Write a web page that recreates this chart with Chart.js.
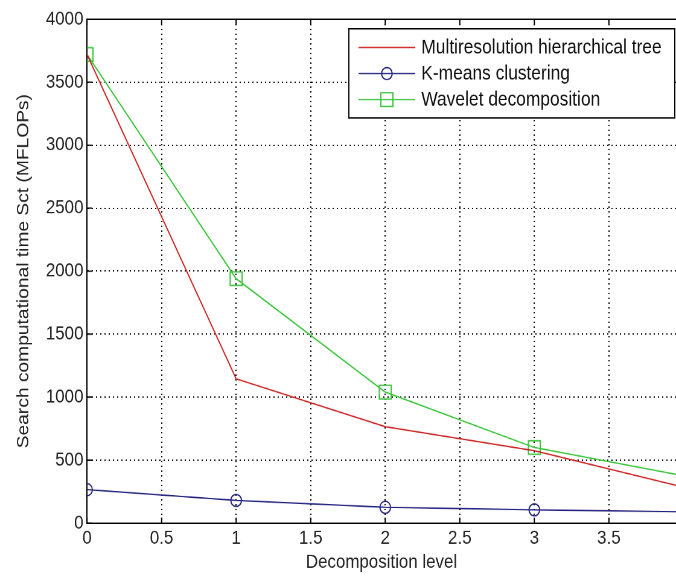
<!DOCTYPE html>
<html>
<head>
<meta charset="utf-8">
<script src="https://cdn.jsdelivr.net/npm/chart.js@4.4.0/dist/chart.umd.min.js"></script>
<style>
  html, body { margin: 0; padding: 0; background: #fff; overflow: hidden; width: 676px; height: 576px; }
  /* the figure is drawn at 560x420 and stretched to the page, like the original export */
  #chart { transform-origin: 0 0; transform: scale(1.2071, 1.3714); }
</style>
</head>
<body>
<canvas id="chart" width="560" height="420"></canvas>
<script>
// decomposition levels (x)
var levels = [0, 1, 2, 3, 4];

// search computational time, MFLOPs
var treeVals    = [3720, 1145, 765, 575, 285];
var kmeansVals  = [265, 180, 125, 105, 90];
var waveletVals = [3720, 1940, 1040, 600, 375];

var seriesNames = ["Multiresolution hierarchical tree", "K-means clustering", "Wavelet decomposition"];

var xTitle = "Decomposition level";
var yTitle = "Search computational time Sct (MFLOPs)";

var FONT = "'Liberation Sans', Arial, sans-serif";

function pts(vals) {
    return levels.map(function (x, i) { return { x: x, y: vals[i] }; });
}

// solid top edge, inside tick marks and the boxed legend
var framePlugin = {
    id: 'frame',
    afterDatasetsDraw: function (chart) {
        var ctx = chart.ctx, a = chart.chartArea;
        var xs = chart.scales.x, ys = chart.scales.y;
        ctx.save();
        ctx.strokeStyle = '#000';
        ctx.lineWidth = 1;
        ctx.beginPath();
        ctx.moveTo(a.left, a.top);
        ctx.lineTo(a.right, a.top);
        xs.ticks.forEach(function (t) {
            var px = xs.getPixelForValue(t.value);
            ctx.moveTo(px, a.bottom); ctx.lineTo(px, a.bottom - 4);
            ctx.moveTo(px, a.top); ctx.lineTo(px, a.top + 4);
        });
        ys.ticks.forEach(function (t) {
            var py = ys.getPixelForValue(t.value);
            ctx.moveTo(a.left, py); ctx.lineTo(a.left + 4, py);
        });
        ctx.stroke();

        // legend box
        var bx = 289, by = 21, bw = 270, bh = 65;
        ctx.fillStyle = '#fff';
        ctx.fillRect(bx, by, bw, bh);
        ctx.strokeRect(bx, by, bw, bh);
        ctx.font = '14.4px ' + FONT;
        ctx.textBaseline = 'middle';
        chart.data.datasets.forEach(function (ds, i) {
            var y = 34.6 + i * 19;
            ctx.strokeStyle = ds.borderColor;
            ctx.beginPath();
            ctx.moveTo(297, y); ctx.lineTo(344, y);
            ctx.stroke();
            if (ds.pointStyle === 'circle') {
                ctx.beginPath();
                ctx.arc(320.5, y, 4.4, 0, Math.PI * 2);
                ctx.stroke();
            } else if (ds.pointStyle === 'rect') {
                ctx.strokeRect(315.5, y - 5, 10, 10);
            }
            ctx.fillStyle = '#111';
            ctx.fillText(ds.label, 349, y + 0.5);
        });
        ctx.restore();
    }
};

var ctx = document.getElementById('chart');

var config = {
    type: 'line',
    data: {
        datasets: [{
            label: seriesNames[0],
            data: pts(treeVals),
            borderColor: '#cc2222',
            borderWidth: 1,
            pointRadius: 0,
            pointStyle: false
        }, {
            label: seriesNames[1],
            data: pts(kmeansVals),
            borderColor: '#20207e',
            borderWidth: 1,
            pointStyle: 'circle',
            pointRadius: 4.4,
            pointBorderWidth: 1,
            pointBackgroundColor: 'rgba(0,0,0,0)'
        }, {
            label: seriesNames[2],
            data: pts(waveletVals),
            borderColor: '#38c438',
            borderWidth: 1,
            pointStyle: 'rect',
            pointRadius: 7,
            pointBorderWidth: 1,
            pointBackgroundColor: 'rgba(0,0,0,0)'
        }]
    },
    options: {
        responsive: false,
        devicePixelRatio: 2,
        animation: false,
        layout: { autoPadding: false, padding: { top: 14, right: 0, left: 0, bottom: 0 } },
        plugins: {
            legend: { display: false },
            tooltip: { enabled: false }
        },
        scales: {
            x: {
                type: 'linear',
                min: 0,
                max: 3.95,
                afterFit: function (s) { s.height = 38.6; s.paddingRight = 0; s.paddingLeft = 0; },
                ticks: {
                    stepSize: 0.5,
                    includeBounds: false,
                    color: '#222',
                    font: { family: FONT, size: 14 },
                    padding: 3,
                    maxRotation: 0,
                    callback: function (v) { return String(v); }
                },
                grid: {
                    color: '#000',
                    lineWidth: 1,
                    drawTicks: false
                },
                border: { color: '#000', width: 1, dash: [1, 2.5] },
                title: {
                    display: true,
                    text: xTitle,
                    color: '#222',
                    font: { family: FONT, size: 14 },
                    padding: { top: 0, bottom: 1.5 }
                }
            },
            y: {
                min: 0,
                max: 4000,
                afterFit: function (s) { s.width = 72.1; s.paddingTop = 0; s.paddingBottom = 0; },
                ticks: {
                    stepSize: 500,
                    color: '#222',
                    font: { family: FONT, size: 14 },
                    padding: 3,
                    callback: function (v) { return String(v); }
                },
                grid: {
                    color: '#000',
                    lineWidth: 1,
                    drawTicks: false
                },
                border: { color: '#000', width: 1, dash: [1, 2.5] },
                title: {
                    display: true,
                    text: yTitle,
                    color: '#222',
                    font: { family: FONT, size: 14 },
                    padding: { top: 11, bottom: 0 }
                }
            }
        }
    },
    plugins: [framePlugin]
};

var chart = new Chart(ctx, config);
</script>
</body>
</html>
